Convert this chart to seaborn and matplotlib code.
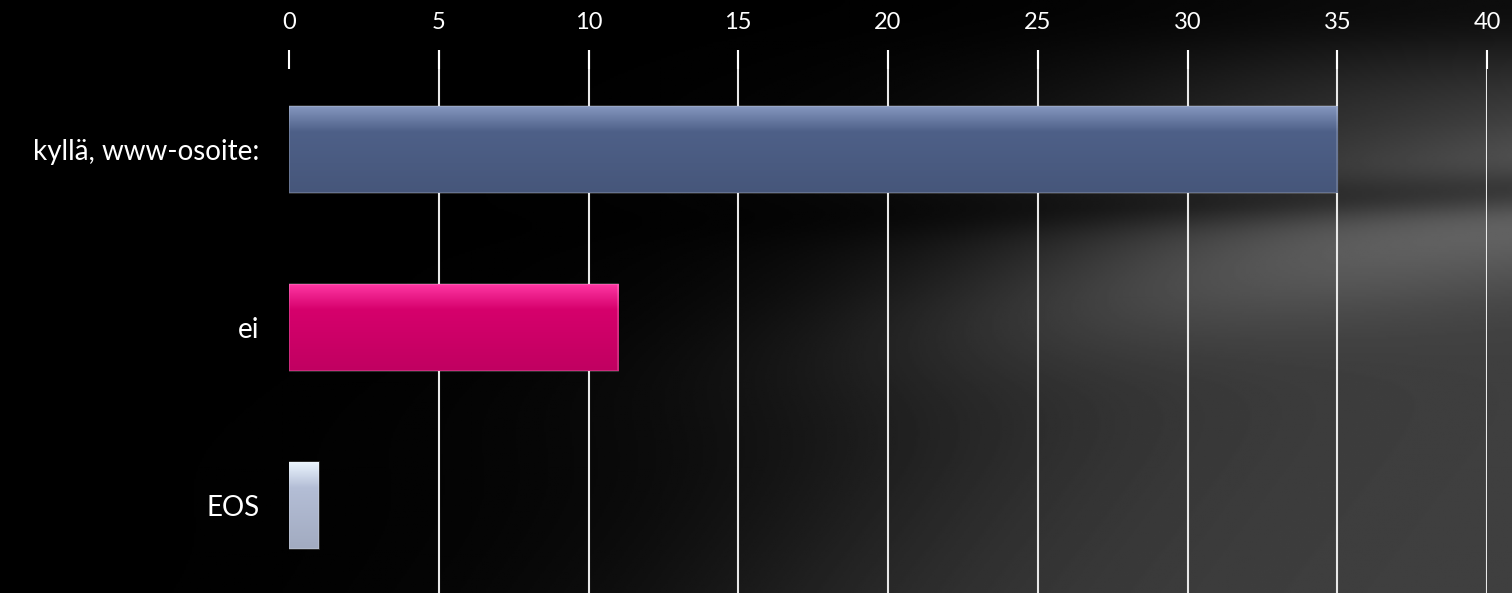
import numpy as np
import pandas as pd
import matplotlib.pyplot as plt
import seaborn as sns
from matplotlib.colors import to_rgb

# data
categories = ["kyllä, www-osoite:", "ei", "EOS"]
values = [35, 11, 1]
colors = ["#4e6088", "#d6006c", "#b4bed6"]
xticks = [0, 5, 10, 15, 20, 25, 30, 35, 40]

df = pd.DataFrame({"vastaus": categories, "lkm": values})

sns.set_style("dark")
plt.rcParams["font.family"] = ["Lato", "DejaVu Sans"]

W, H = 1512, 593
fig = plt.figure(figsize=(W / 100, H / 100), dpi=100)
fig.patch.set_facecolor("black")

# background: black with grey diagonal light on the right
bg = fig.add_axes([0, 0, 1, 1], zorder=0)
yy, xx = np.mgrid[0:1:300j, 0:1:760j]
ramp = 1 / (1 + np.exp(-(xx - 0.68 + 0.3 * (yy - 0.5)) / 0.1))
band = 0.6 + 0.4 * np.exp(-((yy - 0.45 + 0.45 * (xx - 0.8)) / 0.13) ** 2)
dark = 1 - 0.4 * np.exp(-((yy - 0.33 + 0.1 * (xx - 0.9)) / 0.04) ** 2)
top = 1 - 0.75 * np.exp(-(yy / 0.12) ** 2)
img = np.clip(0.42 * ramp * band * dark * top, 0, 1)
bg.imshow(img, cmap="gray", vmin=0, vmax=1, aspect="auto", extent=[0, 1, 1, 0])
bg.axis("off")

ax = fig.add_axes([289 / W, 0, (1487 - 289) / W, (H - 50) / H], zorder=1)
ax.patch.set_alpha(0)

sns.barplot(data=df, x="lkm", y="vastaus", hue="vastaus", palette=colors,
            saturation=1, width=0.49, legend=False, ax=ax, zorder=3)

ax.set_xlim(0, 40)
ax.set_ylim(2.49, -0.56)

# soft vertical shading on each bar (lighter top edge)
for p, c in zip(ax.patches, colors):
    base = np.array(to_rgb(c))
    t = np.linspace(0, 1, 64)[:, None]
    light = np.clip(base + 0.22, 0, 1)
    shade = base * 0.9
    grad = np.where(t < 0.3, light + (base - light) * (t / 0.3),
                    base + (shade - base) * ((t - 0.3) / 0.7))
    x0, y0 = p.get_x(), p.get_y()
    w, h = p.get_width(), p.get_height()
    im = ax.imshow(grad[:, None, :], extent=[x0, x0 + w, y0 + h, y0],
                   aspect="auto", zorder=3, interpolation="bilinear")
    im.set_clip_path(p)
    p.set_edgecolor((1, 1, 1, 0.2))
    p.set_linewidth(1.2)
    p.set_zorder(4)
    p.set_facecolor("none")
ax.set_xlim(0, 40)
ax.set_ylim(2.49, -0.56)

ax.set_xticks(xticks)
ax.xaxis.tick_top()
ax.tick_params(axis="x", colors="white", labelcolor="white", labelsize=17,
               direction="in", length=14, width=1.5, pad=12)
ax.tick_params(axis="y", left=False, labelcolor="white", labelsize=20, pad=18)
ax.grid(axis="x", color="#e8e8e8", linewidth=1.5, zorder=1)
ax.grid(axis="y", visible=False)
ax.xaxis.get_gridlines()[0].set_visible(False)
ax.set_axisbelow(True)
ax.set_xlabel("")
ax.set_ylabel("")
for s in ax.spines.values():
    s.set_visible(False)

fig.savefig("out.png", dpi=100, facecolor="black")
